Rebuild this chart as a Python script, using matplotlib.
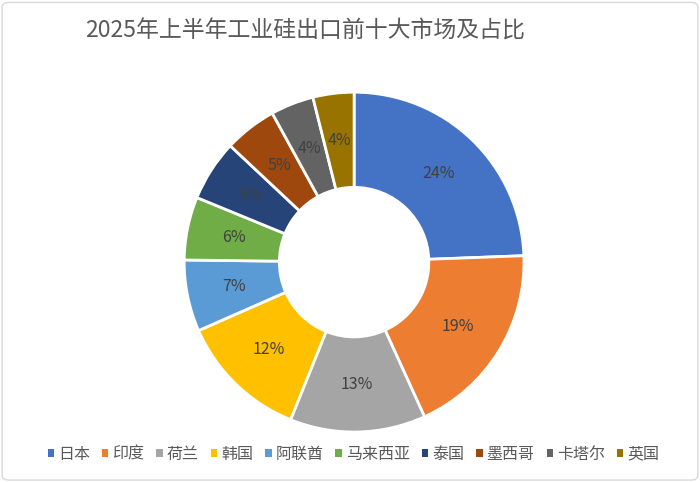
import matplotlib
matplotlib.use("Agg")
import matplotlib.pyplot as plt
from matplotlib.patches import FancyBboxPatch, Patch

plt.rcParams['font.family'] = ['Noto Sans CJK SC', 'DejaVu Sans']

markets = ["日本", "印度", "荷兰", "韩国", "阿联酋", "马来西亚", "泰国", "墨西哥", "卡塔尔", "英国"]
shares = [24.4, 18.8, 12.9, 12.3, 6.8, 6.0, 5.8, 5.0, 4.1, 3.9]
colors = ["#4472C4", "#ED7D31", "#A5A5A5", "#FFC000", "#5B9BD5",
          "#70AD47", "#264478", "#9E480E", "#636363", "#997300"]
title = "2025年上半年工业硅出口前十大市场及占比"

fig = plt.figure(figsize=(7, 4.82), dpi=100)
ax = fig.add_axes([0.263, 0.1037, 0.4857, 0.705])

wedges, texts, autotexts = ax.pie(
    shares, colors=colors, startangle=90, counterclock=False,
    autopct=lambda p: "%d%%" % round(p), pctdistance=0.72, radius=1,
    wedgeprops=dict(width=0.56, edgecolor="white", linewidth=2))
for t in autotexts:
    t.set_color("#404040")
    t.set_fontsize(11.5)
ax.set_xlim(-1, 1)
ax.set_ylim(-1, 1)
ax.set_aspect("equal")
ax.axis("off")

fig.text(0.121, 0.936, title, fontsize=16.5, color="#595959", ha="left", va="center")

handles = [Patch(facecolor=c, edgecolor="none") for c in colors]
fig.legend(handles, markets, loc="center", bbox_to_anchor=(0.505, 0.058), ncol=10,
           frameon=False, fontsize=11.5, handlelength=0.4, handleheight=0.4,
           handletextpad=0.25, columnspacing=0.75, labelcolor="#595959")

border = FancyBboxPatch((0.003, 0.004), 0.994, 0.991, boxstyle="round,pad=0,rounding_size=0.01",
                        transform=fig.transFigure, fill=False, edgecolor="#D9D9D9", linewidth=1)
fig.patches.append(border)

fig.savefig("out.png", dpi=100)
